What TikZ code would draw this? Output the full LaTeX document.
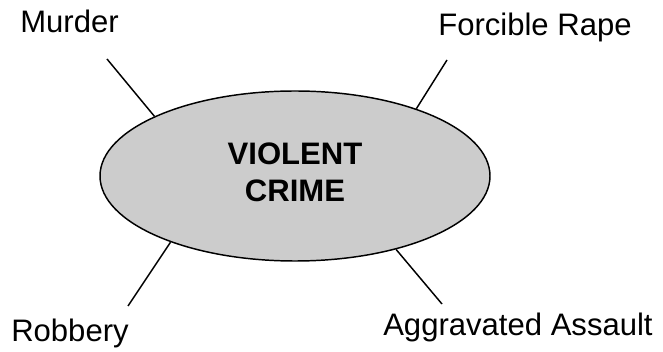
\documentclass[tikz,border=0pt]{standalone}
\usepackage{fontspec}
\setmainfont{Liberation Sans}
\usetikzlibrary{shapes.geometric}
\begin{document}
\begin{tikzpicture}[x=0.75pt,y=-0.75pt,
    lbl/.style={inner sep=0pt,anchor=base west,font=\fontsize{23.3}{27.75}\selectfont},
    spoke/.style={line width=1.1pt}]
      \useasboundingbox (0,0) rectangle (663,352);
      \node[ellipse,draw,line width=1.1pt,fill=black!20,minimum width=292.5pt,minimum height=127.5pt,
            inner sep=0pt,align=center,text depth=6pt,
            font=\fontsize{23.3}{27.75}\selectfont\bfseries] (crime) at (295,176) {VIOLENT\\CRIME};
      \node[lbl] (murder) at (20,33) {Murder};
      \node[lbl] (rape) at (438,36) {Forcible Rape};
      \node[lbl] (robbery) at (11,341) {Robbery};
      \node[lbl] (assault) at (383,335) {Aggravated Assault};
      \coordinate (m) at (107,59);
      \coordinate (r) at (447,60);
      \coordinate (b) at (128,306);
      \coordinate (a) at (442,304);
      \draw[spoke] (m) -- (crime.157);
      \draw[spoke] (r) -- (crime.29);
      \draw[spoke] (b) -- (crime.208);
      \draw[spoke] (a) -- (crime.324);
    \end{tikzpicture}
\end{document}
